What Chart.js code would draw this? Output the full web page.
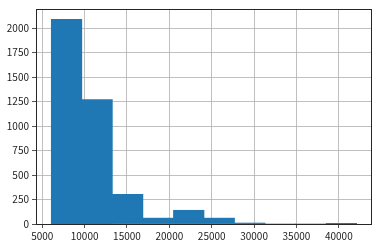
<!DOCTYPE html>
<html>
<head>
<meta charset="utf-8">
<script src="https://cdn.jsdelivr.net/npm/chart.js@4"></script>
<style>
html,body{margin:0;padding:0;background:#fff;}
#wrap{width:378px;height:247px;position:relative;}
</style>
</head>
<body>
<div id="wrap"><canvas id="c" width="378" height="247"></canvas></div>
<script>
const binEdges = [6064, 9669, 13274, 16879, 20484, 24089, 27694, 31299, 34904, 38509, 42114];
const counts = [2090, 1270, 303, 60, 140, 60, 10, 0, 0, 8];
const xTicks = [5000, 10000, 15000, 20000, 25000, 30000, 35000, 40000];
const yTicks = [0, 250, 500, 750, 1000, 1250, 1500, 1750, 2000];

const data = counts.map((c, i) => ({ x: (binEdges[i] + binEdges[i + 1]) / 2, y: c }));
const span = binEdges[binEdges.length - 1] - binEdges[0];
const maxCount = Math.max(...counts);

const frame = {
  id: 'frame',
  afterDraw(chart) {
    const { ctx, chartArea: a } = chart;
    ctx.save();
    ctx.strokeStyle = '#262626';
    ctx.lineWidth = 1;
    ctx.strokeRect(Math.round(a.left) + 0.5, Math.round(a.top) + 0.5, Math.round(a.right - a.left) - 1, Math.round(a.bottom - a.top));
    ctx.restore();
  }
};

const font = { family: '"Noto Sans CJK KR", "Noto Sans", sans-serif', size: 10 };

new Chart(document.getElementById('c'), {
  type: 'bar',
  data: { datasets: [{ data, backgroundColor: '#1f77b4', borderWidth: 0, barPercentage: 1, categoryPercentage: 1, grouped: false }] },
  options: {
    responsive: false,
    animation: false,
    devicePixelRatio: 1,
    layout: { padding: { top: 7, right: 6, left: 0, bottom: 0 } },
    plugins: { legend: { display: false }, tooltip: { enabled: false } },
    scales: {
      x: {
        type: 'linear',
        offset: false,
        z: 1,
        min: binEdges[0] - span * 0.05,
        max: binEdges[binEdges.length - 1] + span * 0.05,
        afterBuildTicks: ax => { ax.ticks = xTicks.map(v => ({ value: v })); },
        afterFit: ax => { ax.height = 23; },
        grid: { offset: false, color: '#b0b0b0', lineWidth: 0.8, tickColor: '#262626', tickLength: 4, drawTicks: true },
        border: { display: false },
        ticks: { font, color: '#222', padding: 2, maxRotation: 0, autoSkip: false, callback: v => String(v) }
      },
      y: {
        z: 1,
        min: 0,
        max: maxCount * 1.05,
        afterBuildTicks: ax => { ax.ticks = yTicks.map(v => ({ value: v })); },
        afterFit: ax => { ax.width = 36; },
        grid: { color: '#b0b0b0', lineWidth: 0.8, tickColor: '#262626', tickLength: 4, drawTicks: true },
        border: { display: false },
        ticks: { font, color: '#222', padding: 3, autoSkip: false, callback: v => String(v) }
      }
    }
  },
  plugins: [frame]
});
</script>
</body>
</html>
